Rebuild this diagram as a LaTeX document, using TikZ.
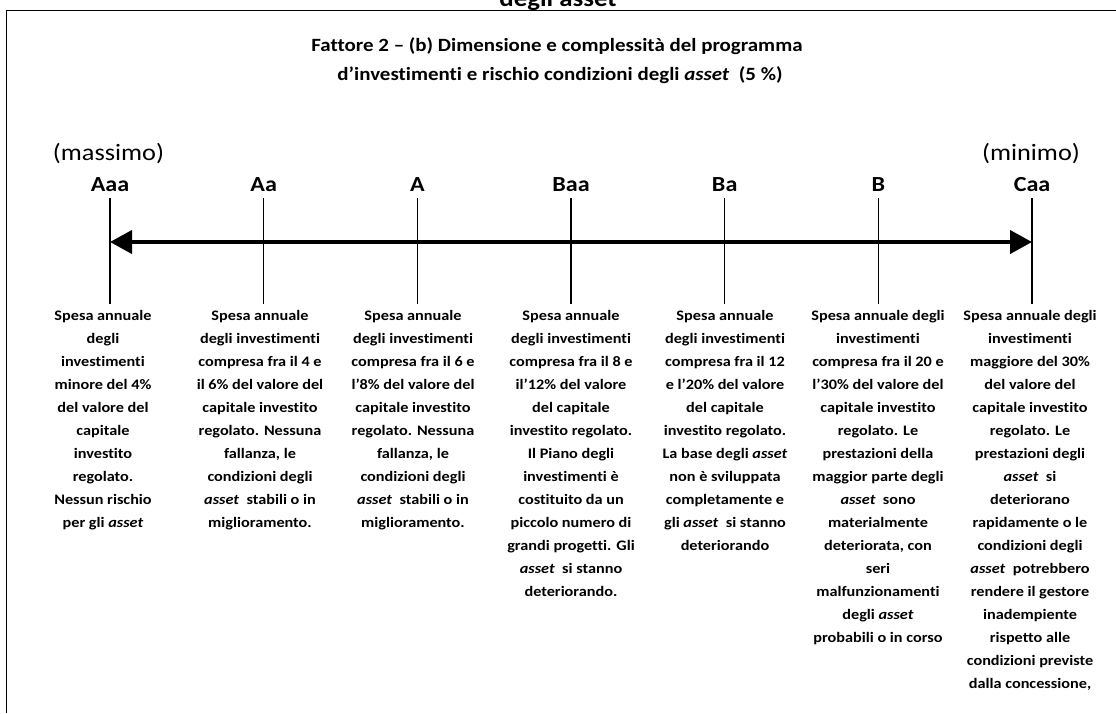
\documentclass[tikz,border=0pt]{standalone}
\usepackage{fontspec}
\setmainfont{Carlito}[FakeStretch=1.12,Ligatures={NoCommon,NoRare,NoContextual}]
\usetikzlibrary{arrows.meta}
\newcommand{\ass}{\textit{asset}}
\begin{document}
\begin{tikzpicture}[x=1pt,y=-1pt,
  coltext/.style={font=\fontsize{14.5}{23}\selectfont\bfseries, align=center, anchor=north, inner sep=0pt},
  grade/.style={font=\fontsize{21.5}{24}\selectfont\bfseries, anchor=base, inner sep=0pt},
  extreme/.style={font=\fontsize{23.5}{26}\selectfont, anchor=base, inner sep=0pt},
  titletext/.style={font=\fontsize{18.7}{29}\selectfont\bfseries, anchor=base, inner sep=0pt},
  toptext/.style={font=\fontsize{24}{24}\selectfont\bfseries, anchor=base, inner sep=0pt},
  tickline/.style={line width=1.2pt},
  scalearrow/.style={line width=4pt, {Triangle[length=22pt,width=23pt]}-{Triangle[length=22pt,width=23pt]}},
  framebox/.style={line width=1.6pt}
]
\clip (0,0) rectangle (1116,713);
\fill[white] (0,0) rectangle (1116,713);

% cut-off heading above the frame
\node[toptext] (top) at (558,6) {degli asset};

% frame
\draw[framebox] (6.5,713) -- (6.5,10.5) -- (1116,10.5);

% title
\node[titletext] (title1) at (557,51) {Fattore 2 – (b) Dimensione e complessità del programma};
\node[titletext] (title2) at (560,80) {d’investimenti e rischio condizioni degli \ass\ \ (5 \%)};

% extremes
\node[extreme] (max) at (108.5,160) {(massimo)};
\node[extreme] (min) at (1031,160) {(minimo)};

% ticks and grade labels
\foreach \n/\lab [count=\i from 0] in {aaa/Aaa,aa/Aa,a/A,baa/Baa,ba/Ba,b/B,caa/Caa}{
  \pgfmathsetmacro{\xx}{110+\i*153.67}
  \coordinate (\n top) at (\xx,198);
  \coordinate (\n bot) at (\xx,304);
  \node[grade] (\n lab) at (\xx,191) {\lab};
  \draw[tickline] (\n top) -- (\n bot);
}
\coordinate (arrL) at (110,242);
\coordinate (arrR) at (1032,242);
\draw[scalearrow] (arrL) -- (arrR);

% descriptions
\node[coltext] (c1) at (103,310.5) {Spesa annuale\\degli\\investimenti\\minore del 4\%\\del valore del\\capitale\\investito\\regolato.\\Nessun rischio\\per gli \ass};
\node[coltext] (c2) at (260,310.5) {Spesa annuale\\degli investimenti\\compresa fra il 4 e\\il 6\% del valore del\\capitale investito\\regolato. Nessuna\\fallanza, le\\condizioni degli\\\ass\ \ stabili o in\\miglioramento.};
\node[coltext] (c3) at (413,310.5) {Spesa annuale\\degli investimenti\\compresa fra il 6 e\\l’8\% del valore del\\capitale investito\\regolato. Nessuna\\fallanza, le\\condizioni degli\\\ass\ \ stabili o in\\miglioramento.};
\node[coltext] (c4) at (571,310.5) {Spesa annuale\\degli investimenti\\compresa fra il 8 e\\il’12\% del valore\\del capitale\\investito regolato.\\Il Piano degli\\investimenti è\\costituito da un\\piccolo numero di\\grandi progetti. Gli\\\ass\ \ si stanno\\deteriorando.};
\node[coltext] (c5) at (725,310.5) {Spesa annuale\\degli investimenti\\compresa fra il 12\\e l’20\% del valore\\del capitale\\investito regolato.\\La base degli \ass\\non è sviluppata\\completamente e\\gli \ass\ \ si stanno\\deteriorando};
\node[coltext] (c6) at (878,310.5) {Spesa annuale degli\\investimenti\\compresa fra il 20 e\\l’30\% del valore del\\capitale investito\\regolato. Le\\prestazioni della\\maggior parte degli\\\ass\ \ sono\\materialmente\\deteriorata, con\\seri\\malfunzionamenti\\degli \ass\\probabili o in corso};
\node[coltext] (c7) at (1030,310.5) {Spesa annuale degli\\investimenti\\maggiore del 30\%\\del valore del\\capitale investito\\regolato. Le\\prestazioni degli\\\ass\ \ si\\deteriorano\\rapidamente o le\\condizioni degli\\\ass\ \ potrebbero\\rendere il gestore\\inadempiente\\rispetto alle\\condizioni previste\\dalla concessione,};
\end{tikzpicture}
\end{document}
